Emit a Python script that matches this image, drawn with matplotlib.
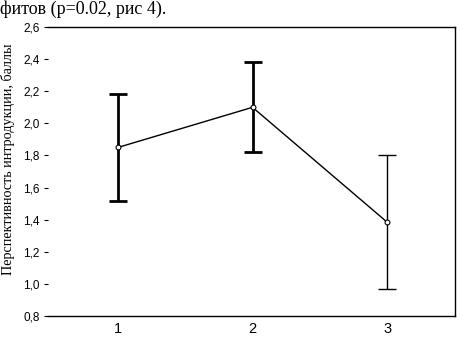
import numpy as np
import matplotlib
matplotlib.use('Agg')
import matplotlib.pyplot as plt
from matplotlib.ticker import FuncFormatter

# group means and interval bounds
groups = [1, 2, 3]
means = [1.85, 2.10, 1.385]
upper = [2.18, 2.385, 1.80]
lower = [1.515, 1.82, 0.97]
yticks = [0.8, 1.0, 1.2, 1.4, 1.6, 1.8, 2.0, 2.2, 2.4, 2.6]

fig = plt.figure(figsize=(4.57, 3.38), dpi=100)
ax = fig.add_axes([0.105, 0.065, 0.891, 0.855])

ax.plot(groups, means, color='black', lw=1.0, marker='o', ms=3.5,
        mfc='white', mec='black', mew=0.8, zorder=3)

m = np.array(means)
err = [m - np.array(lower), np.array(upper) - m]
widths = [2.0, 2.0, 1.0]
for i in range(len(groups)):
    ax.errorbar(groups[i], means[i],
                yerr=[[err[0][i]], [err[1][i]]],
                fmt='none', ecolor='black', elinewidth=widths[i],
                capsize=6.5, capthick=widths[i], zorder=2)

ax.set_xlim(0.48, 3.506)
ax.set_ylim(0.8, 2.6)
ax.set_xticks(groups)
ax.set_yticks(yticks)
ax.yaxis.set_major_formatter(FuncFormatter(lambda v, p: f'{v:.1f}'.replace('.', ',')))

ax.spines['left'].set_visible(False)
for s in ['top', 'bottom', 'right']:
    ax.spines[s].set_linewidth(1.0)

ax.tick_params(axis='y', length=3, width=0.8, labelsize=8.5, pad=3)
ax.tick_params(axis='x', length=0, labelsize=10.5, pad=4)
for lab in ax.get_xticklabels() + ax.get_yticklabels():
    lab.set_fontfamily('Liberation Sans')

ax.set_ylabel('Перспективность интродукции, баллы', family='Liberation Serif',
              fontsize=10.2)
ax.yaxis.set_label_coords(-0.08, 0.543)

fig.text(0.0, 1 - 14 / 338, 'фитов (p=0.02, рис 4).', family='Liberation Serif',
         fontsize=13, va='baseline', ha='left')

fig.savefig('out.png', dpi=100)
